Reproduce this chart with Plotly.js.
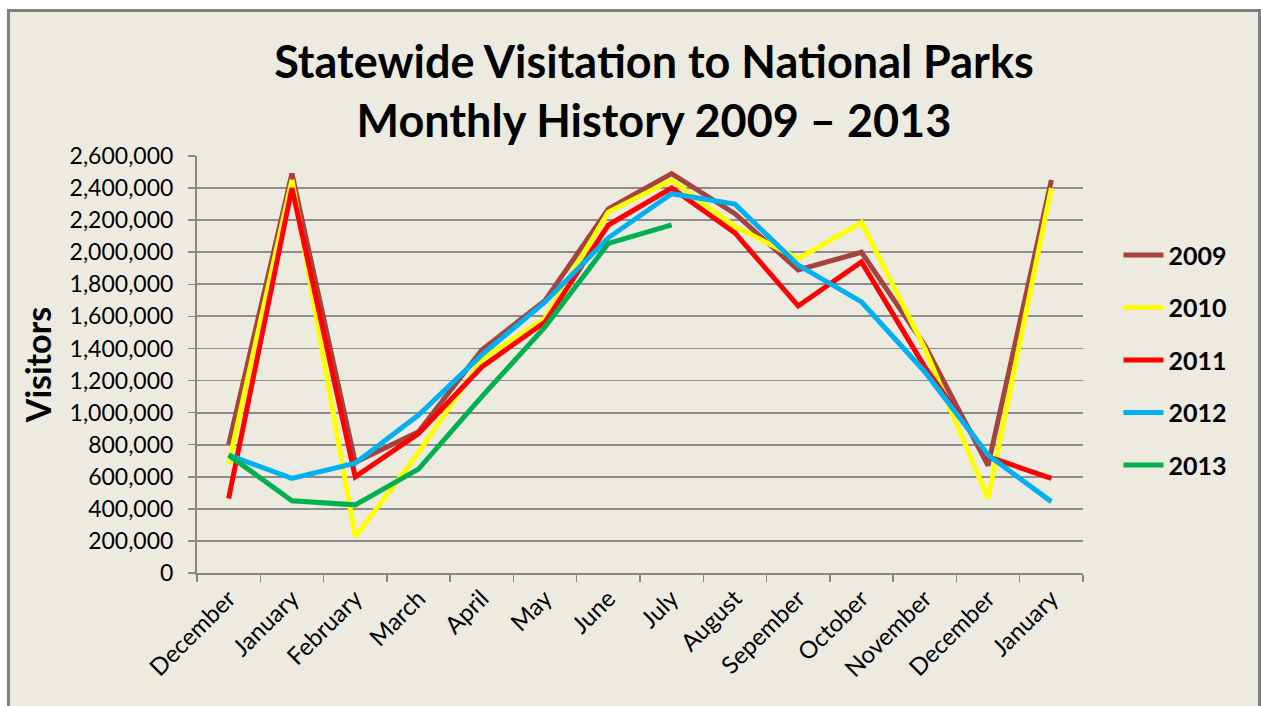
<!DOCTYPE html>
<html>
<head>
<meta charset="utf-8">
<script src="https://cdn.plot.ly/plotly-3.0.1.min.js"></script>
<style>
  html, body { margin: 0; padding: 0; background: #ffffff; width: 1261px; height: 706px; overflow: hidden; }
  #frame { position: absolute; left: 7px; top: 9px; width: 1248px; height: 697px;
           border-left: 3px solid #808080; border-top: 3px solid #808080; border-right: 3px solid #808080;
           background: #EDEAE0; }
  #chart { width: 1248px; height: 697px; }
</style>
</head>
<body>
<div id="frame"><div id="chart"></div></div>
<script>
const months = ["December", "January", "February", "March", "April", "May", "June", "July",
                "August", "Sepember", "October", "November", "December", "January"];
const years = ["2009", "2010", "2011", "2012", "2013"];
const visitors2009 = [800000, 2490000, 690000, 880000, 1390000, 1700000, 2270000, 2490000, 2240000, 1890000, 2000000, 1420000, 670000, 2450000];
const visitors2010 = [680000, 2450000, 225000, 750000, 1330000, 1590000, 2250000, 2450000, 2160000, 1960000, 2185000, 1400000, 465000, 2400000];
const visitors2011 = [465000, 2400000, 600000, 870000, 1285000, 1565000, 2170000, 2400000, 2120000, 1665000, 1940000, 1285000, 725000, 590000];
const visitors2012 = [735000, 590000, 685000, 985000, 1360000, 1690000, 2090000, 2365000, 2300000, 1920000, 1690000, 1255000, 735000, 445000];
const visitors2013 = [735000, 450000, 425000, 648000, 1100000, 1535000, 2055000, 2170000];
const yTicks = [0, 200000, 400000, 600000, 800000, 1000000, 1200000, 1400000, 1600000, 1800000, 2000000, 2200000, 2400000, 2600000];

const series = [visitors2009, visitors2010, visitors2011, visitors2012, visitors2013];
const colors = ["#A5433E", "#FFFF00", "#FF0000", "#00B0F0", "#00B050"];

const idx = months.map((m, i) => i);
const traces = series.map((vals, k) => ({
  type: "scatter",
  mode: "lines",
  name: years[k],
  legendgroup: years[k],
  x: idx.slice(0, vals.length),
  y: vals,
  line: { color: colors[k], width: 5 },
  hoverinfo: "x+y"
}));

const FONT = "Lato, 'Open Sans', sans-serif";
const layout = {
  width: 1248, height: 697,
  paper_bgcolor: "#EDEAE0",
  plot_bgcolor: "#EDEAE0",
  margin: { l: 187, r: 175, t: 144, b: 136 },
  font: { family: FONT, color: "#000000" },
  title: {
    text: "<b>Statewide Visitation to National Parks<br>Monthly History 2009 – 2013</b>",
    font: { family: FONT, size: 45, color: "#000000" },
    xref: "container", x: 0.516, xanchor: "center",
    yref: "container", y: 0.905, yanchor: "middle"
  },
  xaxis: {
    range: [-0.5, 13.5],
    tickmode: "array",
    tickvals: idx,
    ticktext: months,
    tickangle: -45,
    ticks: "",
    tickfont: { family: FONT, size: 24, color: "#000000" },
    showgrid: false,
    zeroline: false,
    showline: true, linecolor: "#868686", linewidth: 2,
    minor: { tick0: -0.5, dtick: 1, ticks: "outside", ticklen: 7, tickcolor: "#868686", tickwidth: 1.5, showgrid: false },
    fixedrange: true
  },
  yaxis: {
    range: [0, 2600000],
    tickmode: "array",
    tickvals: yTicks,
    tickformat: ",d",
    ticks: "outside", ticklen: 7, tickcolor: "#868686", tickwidth: 1.5,
    ticklabelstandoff: 10,
    tickfont: { family: FONT, size: 23, color: "#000000" },
    showgrid: true, gridcolor: "#8C8C8C", gridwidth: 1.8,
    zeroline: false,
    showline: true, linecolor: "#868686", linewidth: 2,
    title: { text: "<b>Visitors</b>", font: { family: FONT, size: 34, color: "#000000" }, standoff: 8 },
    fixedrange: true
  },
  showlegend: true,
  legend: {
    x: 1.04, xanchor: "left",
    y: 0.51, yanchor: "middle",
    bgcolor: "rgba(0,0,0,0)",
    font: { family: FONT, size: 25, color: "#000000", weight: "bold" },
    tracegroupgap: 17,
    itemwidth: 40
  }
};

Plotly.newPlot("chart", traces, layout, { displayModeBar: false, staticPlot: true });
</script>
</body>
</html>
